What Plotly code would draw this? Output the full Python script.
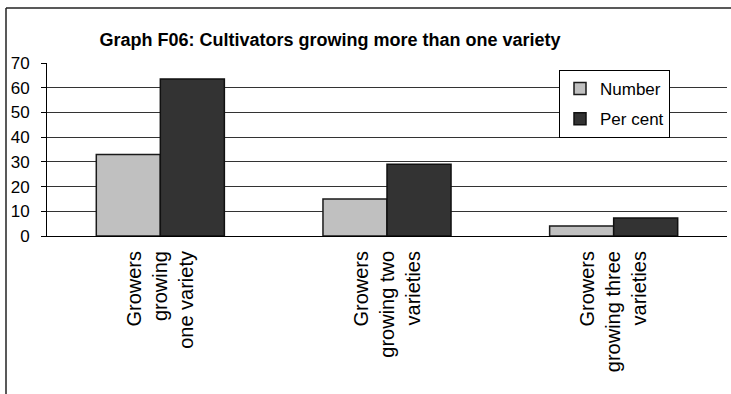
import plotly.graph_objects as go

# Cultivators growing more than one variety
categories = [
    "Growers<br>growing<br>one variety",
    "Growers<br>growing two<br>varieties",
    "Growers<br>growing three<br>varieties",
]
number = [33, 15, 4]
per_cent = [63.5, 29.0, 7.3]
y_ticks = [0, 10, 20, 30, 40, 50, 60, 70]

FONT = "Liberation Sans, Arial, sans-serif"
W, H = 731, 394
L, R, T, B = 47, 4, 63, 158
pw, ph = W - L - R, H - T - B


def px_to_paper_x(px):
    return (px - L) / pw


def px_to_paper_y(py):
    return (H - B - py) / ph


fig = go.Figure()
fig.add_trace(go.Bar(
    name="Number", x=categories, y=number,
    marker=dict(color="#c0c0c0", line=dict(color="#1a1a1a", width=1.5)),
    legendgroup="a",
))
fig.add_trace(go.Bar(
    name="Per cent", x=categories, y=per_cent,
    marker=dict(color="#333333", line=dict(color="#111111", width=1.5)),
    legendgroup="b",
))

# outer frame of the chart (top and left edges)
frame = dict(type="line", xref="paper", yref="paper",
             line=dict(color="#222222", width=1.5))
fig.add_shape(**frame, x0=px_to_paper_x(6), x1=px_to_paper_x(740),
              y0=px_to_paper_y(8), y1=px_to_paper_y(8))
fig.add_shape(**frame, x0=px_to_paper_x(6), x1=px_to_paper_x(6),
              y0=px_to_paper_y(8), y1=px_to_paper_y(400))

fig.update_layout(
    width=W, height=H,
    margin=dict(l=L, r=R, t=T, b=B, autoexpand=False),
    paper_bgcolor="white", plot_bgcolor="white",
    font=dict(family=FONT, color="black"),
    barmode="group", bargap=0.435, bargroupgap=0,
    title=dict(
        text="Graph F06: Cultivators growing more than one variety",
        font=dict(family=FONT, size=18, weight="bold", color="black"),
        x=330 / W, xanchor="center", xref="container",
        y=1 - 40 / H, yanchor="middle", yref="container",
    ),
    legend=dict(
        x=px_to_paper_x(559), y=px_to_paper_y(70),
        xanchor="left", yanchor="top",
        bgcolor="white", bordercolor="black", borderwidth=1,
        font=dict(family=FONT, size=17, color="black"),
        traceorder="grouped", tracegroupgap=5,
    ),
    xaxis=dict(
        showline=True, linecolor="black", linewidth=1,
        ticks="", tickangle=-90, ticklabelstandoff=6,
        tickfont=dict(family=FONT, size=20, color="black"),
        showgrid=False,
    ),
    yaxis=dict(
        range=[0, 70], tickvals=y_ticks,
        showline=True, linecolor="black", linewidth=1,
        ticks="outside", ticklen=5, tickcolor="black",
        ticklabelstandoff=8,
        tickfont=dict(family=FONT, size=17, color="black"),
        showgrid=True, gridcolor="#333333", gridwidth=1,
        zeroline=False,
    ),
)

fig.write_html("out.html")
